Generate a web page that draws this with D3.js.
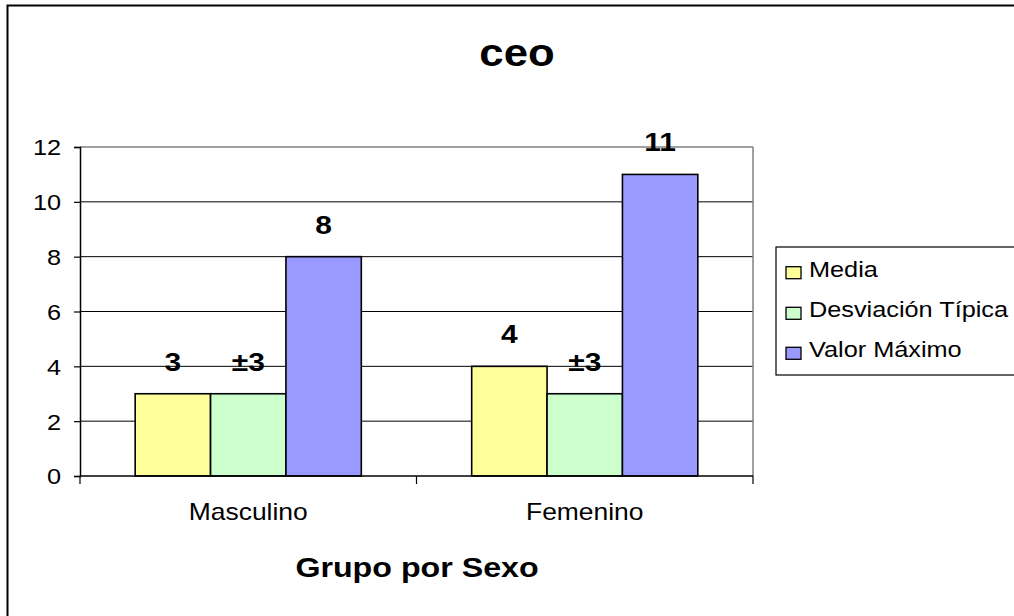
<!DOCTYPE html>
<html><head><meta charset="utf-8">
<script src="https://cdn.jsdelivr.net/npm/d3@7"></script>
<style>
html,body{margin:0;padding:0;background:#fff;}
svg{display:block;font-family:"Liberation Sans",Arial,sans-serif;}
</style></head>
<body>
<svg id="c" width="1014" height="616"></svg>
<script>
const categories = ["Masculino", "Femenino"];
const seriesNames = ["Media", "Desviación Típica", "Valor Máximo"];
const media = [3, 4];
const desviacion = [3, 3];
const maximo = [8, 11];
const labelMedia = ["3", "4"];
const labelDesv = ["±3", "±3"];
const labelMax = ["8", "11"];
const yTicks = [0, 2, 4, 6, 8, 10, 12];
const colors = ["#FFFF99", "#CCFFCC", "#9999FF"];

const SX = 1.15;
const svg = d3.select("#c");

// outer frame
svg.append("rect").attr("x", 7.5).attr("y", 5.5).attr("width", 1030).attr("height", 640)
  .attr("fill", "#fff").attr("stroke", "#000").attr("stroke-width", 2);

const L = 80, R = 753, T = 147, B = 476;
const y = d3.scaleLinear().domain([0, 12]).range([B, T]);
const x0 = d3.scaleBand().domain(categories).range([L, R]).padding(0);
const bw = x0.bandwidth();
const x1 = d3.scaleBand().domain(seriesNames).range([bw * 0.164, bw * 0.836]).padding(0);

function stretchText(sel, x, y, txt) {
  return sel.append("text").attr("transform", `translate(${x},${y}) scale(${SX},1)`).text(txt);
}

// grid lines
svg.append("g").selectAll("line").data(yTicks.filter(d => d > 0 && d < 12)).join("line")
  .attr("x1", L).attr("x2", R).attr("y1", d => y(d)).attr("y2", d => y(d))
  .attr("stroke", "#000").attr("stroke-width", 1);
// plot border top/right grey
svg.append("line").attr("x1", L).attr("x2", R).attr("y1", y(12)).attr("y2", y(12)).attr("stroke", "#808080").attr("stroke-width", 1.5);
svg.append("line").attr("x1", R).attr("x2", R).attr("y1", y(12)).attr("y2", B).attr("stroke", "#808080").attr("stroke-width", 1.5);

// bars
const rows = categories.map((c, i) => ({c, vals: [media[i], desviacion[i], maximo[i]], labs: [labelMedia[i], labelDesv[i], labelMax[i]]}));
const g = svg.append("g").selectAll("g").data(rows).join("g")
  .attr("transform", d => `translate(${x0(d.c)},0)`);
g.selectAll("rect").data(d => d.vals.map((v, k) => ({v, k, s: seriesNames[k]}))).join("rect")
  .attr("x", d => x1(d.s)).attr("width", x1.bandwidth())
  .attr("y", d => y(d.v)).attr("height", d => y(0) - y(d.v))
  .attr("fill", d => colors[d.k]).attr("stroke", "#000").attr("stroke-width", 1.6);

// data labels
rows.forEach(r => {
  r.vals.forEach((v, k) => {
    const cx = x0(r.c) + x1(seriesNames[k]) + x1.bandwidth() / 2;
    stretchText(svg, cx, y(v) - 23, r.labs[k])
      .attr("text-anchor", "middle").attr("font-weight", "bold").attr("font-size", 26).attr("fill", "#000");
  });
});

// y axis
const ya = svg.append("g").attr("transform", `translate(${L},0)`)
  .call(d3.axisLeft(y).tickValues(yTicks).tickSize(6).tickPadding(8));
ya.select(".domain").attr("stroke", "#000").attr("stroke-width", 1.5);
ya.selectAll(".tick line").attr("stroke", "#000").attr("stroke-width", 1.2);
ya.selectAll(".tick text").attr("font-size", 22).attr("font-family", "Liberation Sans, Arial, sans-serif")
  .attr("fill", "#000").attr("x", -19 / SX).attr("dy", "0.36em").attr("transform", `scale(${SX},1)`);

// x axis
svg.append("line").attr("x1", L).attr("x2", R).attr("y1", B).attr("y2", B).attr("stroke", "#000").attr("stroke-width", 1.5);
const xt = [L, x0(categories[1]), R];
svg.append("g").selectAll("line").data(xt).join("line")
  .attr("x1", d => d).attr("x2", d => d).attr("y1", B).attr("y2", B + 8).attr("stroke", "#000").attr("stroke-width", 1.2);
categories.forEach(c => {
  stretchText(svg, x0(c) + bw / 2, 520, c).attr("text-anchor", "middle").attr("font-size", 23).attr("fill", "#000");
});

// titles
stretchText(svg, 517, 66, "ceo").attr("text-anchor", "middle").attr("font-weight", "bold").attr("font-size", 38);
stretchText(svg, 417, 577, "Grupo por Sexo").attr("text-anchor", "middle").attr("font-weight", "bold").attr("font-size", 28);

// legend
svg.append("rect").attr("x", 776).attr("y", 247).attr("width", 300).attr("height", 128)
  .attr("fill", "#fff").attr("stroke", "#000").attr("stroke-width", 1.2);
const ly = [276.7, 317.3, 357.3];
seriesNames.forEach((s, k) => {
  svg.append("rect").attr("x", 786).attr("y", ly[k] - 10).attr("width", 15).attr("height", 12)
    .attr("fill", colors[k]).attr("stroke", "#000").attr("stroke-width", 1.3);
  stretchText(svg, 809, ly[k], s).attr("font-size", 22).attr("fill", "#000");
});
</script>
</body></html>
